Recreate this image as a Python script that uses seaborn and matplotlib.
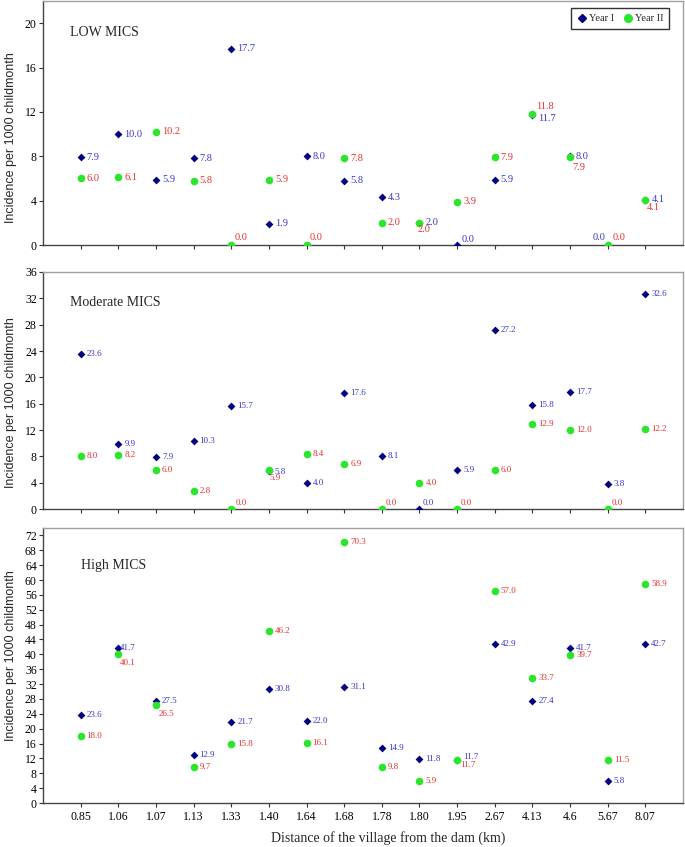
import numpy as np
import pandas as pd
import matplotlib
matplotlib.use("Agg")
import matplotlib.pyplot as plt
from matplotlib.lines import Line2D
import seaborn as sns

# ---------------- data ----------------
distances = ["0.85", "1.06", "1.07", "1.13", "1.33", "1.40", "1.64", "1.68",
             "1.78", "1.80", "1.95", "2.67", "4.13", "4.6", "5.67", "8.07"]

low_year1 = [7.9, 10.0, 5.9, 7.8, 17.7, 1.9, 8.0, 5.8, 4.3, 2.0, 0.0, 5.9, 11.7, 8.0, 0.0, 4.1]
low_year2 = [6.0, 6.1, 10.2, 5.8, 0.0, 5.9, 0.0, 7.8, 2.0, 2.0, 3.9, 7.9, 11.8, 7.9, 0.0, 4.1]

mod_year1 = [23.6, 9.9, 7.9, 10.3, 15.7, 5.8, 4.0, 17.6, 8.1, 0.0, 5.9, 27.2, 15.8, 17.7, 3.8, 32.6]
mod_year2 = [8.0, 8.2, 6.0, 2.8, 0.0, 5.9, 8.4, 6.9, 0.0, 4.0, 0.0, 6.0, 12.9, 12.0, 0.0, 12.2]

high_year1 = [23.6, 41.7, 27.5, 12.9, 21.7, 30.8, 22.0, 31.1, 14.9, 11.8, 11.7, 42.9, 27.4, 41.7, 5.8, 42.7]
high_year2 = [18.0, 40.1, 26.5, 9.7, 15.8, 46.2, 16.1, 70.3, 9.8, 5.9, 11.7, 57.0, 33.7, 39.7, 11.5, 58.9]

panel_titles = ["LOW MICS", "Moderate MICS", "High MICS"]
series_names = ["Year I", "Year II"]
y_label = "Incidence per 1000 childmonth"
x_label = "Distance of the village from the dam (km)"

# ---------------- style ----------------
sns.set_theme(style="white")
plt.rcParams["font.family"] = ["Liberation Serif", "DejaVu Serif"]

W, H = 685, 847
fig = plt.figure(figsize=(W / 100, H / 100), dpi=100)

marker_colors = {"Year I": "#000080", "Year II": "#2ae62a"}
text_colors = {"Year I": "#3535d0", "Year II": "#e8302e"}
markers = {"Year I": "D", "Year II": "o"}
msizes = {"Year I": 16, "Year II": 30}

# axes rectangles in pixel (left, top, right, bottom)
px_rects = [(43, 1, 683, 245), (43, 272, 683, 509), (43, 528, 683, 803)]
ymaxes = [22, 36, 74]
label_fs = [7.5, 6.5, 6.5]
title_pos = [(70, 33), (70, 302), (81, 565)]
ylabel_y = [0.44, 0.45, 0.535]

# label offsets in pixels (dx, dy up, ha) for points whose labels are not simply to the right
special = {
    (0, 1, 4): (3, 8, "left"), (0, 1, 6): (3, 8, "left"),
    (0, 1, 9): (-2, -7, "left"), (0, 0, 10): (5, 6, "left"),
    (0, 1, 12): (4, 8, "left"), (0, 0, 12): (6, -3, "left"),
    (0, 1, 13): (2, -10, "left"), (0, 0, 14): (-2, 7, "right"),
    (0, 1, 14): (5, 7, "left"), (0, 1, 15): (1, -8, "left"),
    (1, 1, 4): (4, 6, "left"), (1, 1, 8): (4, 6, "left"),
    (1, 1, 10): (4, 6, "left"), (1, 1, 14): (4, 6, "left"),
    (1, 0, 9): (3, 6, "left"), (1, 1, 5): (1, -8, "left"), (1, 0, 5): (6, -1, "left"),
    (2, 0, 1): (2, 0, "left"), (2, 1, 1): (2, -9, "left"),
    (2, 1, 2): (3, -9, "left"), (2, 0, 10): (6, 3, "left"), (2, 1, 10): (3, -5, "left"),
}

panels = [(low_year1, low_year2), (mod_year1, mod_year2), (high_year1, high_year2)]
axes = []
for p, ((y1, y2), (l, t, r, b)) in enumerate(zip(panels, px_rects)):
    ax = fig.add_axes([l / W, 1 - b / H, (r - l) / W, (b - t) / H])
    axes.append(ax)
    for s, (name, vals) in enumerate(zip(series_names, (y1, y2))):
        df = pd.DataFrame({"Distance": distances, "Incidence": vals})
        sns.scatterplot(data=df, x="Distance", y="Incidence", marker=markers[name],
                        color=marker_colors[name], s=msizes[name], linewidth=0,
                        ax=ax, zorder=3 + s)
        for j, v in enumerate(vals):
            dx, dy, ha = special.get((p, s, j), (6, 0, "left"))
            ax.annotate(f"{v:.1f}", (j, v), xytext=(dx * 0.72, dy * 0.72),
                        textcoords="offset points", ha=ha, va="center",
                        fontsize=label_fs[p], color=text_colors[name], zorder=6)
    ax.set_xlim(-1, len(distances))
    ax.set_ylim(0, ymaxes[p])
    ax.set_yticks(np.arange(0, ymaxes[p] + 0.1, 4)[: int(ymaxes[p] // 4) + 1])
    ax.set_xticks(range(len(distances)))
    ax.set_xlabel("")
    ax.set_ylabel(y_label, family=["Liberation Sans", "DejaVu Sans"], fontsize=9)
    ax.yaxis.set_label_coords(-0.041, ylabel_y[p])
    ax.tick_params(axis="both", direction="out", length=3, width=0.8, colors="#333333",
                   labelsize=8.5, pad=1.5, left=True, bottom=True)
    ax.tick_params(axis="both", labelcolor="black")
    for side in ("left", "bottom"):
        ax.spines[side].set_color("#444444")
        ax.spines[side].set_linewidth(1.0)
    for side in ("top", "right"):
        ax.spines[side].set_color("#a0a0a0")
        ax.spines[side].set_linewidth(1.0)
    if p < 2:
        ax.set_xticklabels([])
    else:
        ax.set_xticklabels(distances)
        ax.tick_params(axis="x", pad=3)
    tx, ty = title_pos[p]
    fig.text(tx / W, 1 - ty / H, panel_titles[p], fontsize=10, ha="left", va="center")

fig.text(388 / W, 1 - 838 / H, x_label, fontsize=10, ha="center", va="center")

handles = [Line2D([], [], marker=markers[n], color=marker_colors[n], linestyle="",
                  markersize=4.5 if n == "Year I" else 5.5) for n in series_names]
axes[0].legend(handles, series_names, loc="upper right",
               bbox_to_anchor=((674 - 43) / 640, 1 - 2 / 244), ncol=2,
               fontsize=7.5, frameon=True, fancybox=False, edgecolor="#333333",
               handletextpad=0.1, columnspacing=0.9, borderpad=0.55, handlelength=1.0,
               framealpha=1)
axes[0].get_legend().get_frame().set_linewidth(1.0)

fig.savefig("out.png", dpi=100)
